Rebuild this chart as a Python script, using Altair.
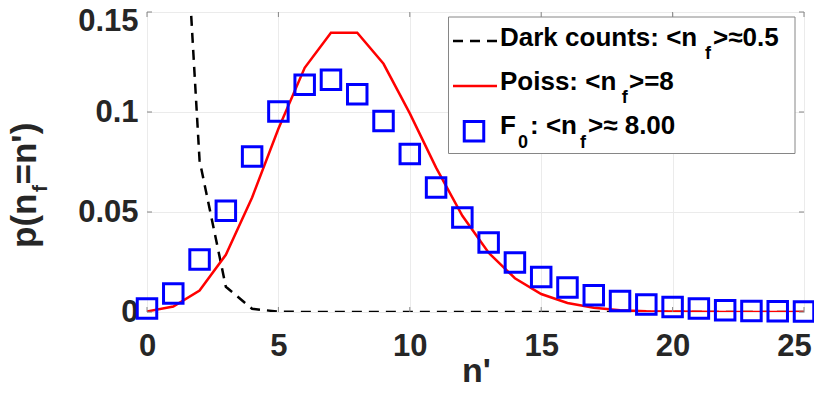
import altair as alt
import pandas as pd

# ---- data ----
n_vals = [0, 1, 2, 3, 4, 5, 6, 7, 8, 9, 10, 11, 12, 13, 14, 15, 16, 17, 18, 19, 20, 21, 22, 23, 24, 25]
dark_counts = [0.6065, 0.3033, 0.0758, 0.0126, 0.0016, 0.0002, 0.0, 0.0, 0.0, 0.0, 0.0, 0.0, 0.0,
               0.0, 0.0, 0.0, 0.0, 0.0, 0.0, 0.0, 0.0, 0.0, 0.0, 0.0, 0.0, 0.0]
poisson = [0.0003, 0.0027, 0.0107, 0.0286, 0.0573, 0.0916, 0.1221, 0.1396, 0.1396, 0.1241, 0.0993,
           0.0722, 0.0481, 0.0296, 0.0169, 0.0090, 0.0045, 0.0021, 0.0009, 0.0004, 0.0002, 0.0001,
           0.0, 0.0, 0.0, 0.0]
f0 = [0.0017, 0.0092, 0.0262, 0.0506, 0.0777, 0.1002, 0.1136, 0.1161, 0.1089, 0.0955, 0.0790,
      0.0623, 0.0473, 0.0348, 0.0247, 0.0175, 0.0122, 0.0084, 0.0055, 0.0037, 0.0025, 0.0017,
      0.0009, 0.0005, 0.0004, 0.0002]
x_ticks = [0, 5, 10, 15, 20, 25]
y_ticks = [0, 0.05, 0.1, 0.15]

W, H = 657, 300
FONT = "Liberation Sans"
BOX = "#868686"
GRID = "#ebebeb"
TXT = "#262626"

df = pd.DataFrame({"n": n_vals, "dark": dark_counts, "poiss": poisson, "f0": f0})
xt = pd.DataFrame({"t": x_ticks})
yt = pd.DataFrame({"t": y_ticks})
one = pd.DataFrame({"k": [0]})

xs = alt.Scale(domain=[0, 25], nice=False, zero=False)
ys = alt.Scale(domain=[0, 0.15], nice=False)

xaxis = alt.Axis(values=x_ticks, title="n'", grid=True, gridColor=GRID, domain=False,
                 ticks=False, tickSize=0, labelPadding=19, labelFont=FONT, labelFontSize=31,
                 labelFontWeight="bold", labelColor=TXT, labelFlush=False, labelOverlap=False,
                 labelOffset={"condition": {"test": "datum.value > 24", "value": -10}, "value": 0},
                 titleFont=FONT, titleFontSize=34, titleFontWeight="bold", titleColor=TXT,
                 titleX=329, titleY=69, titleBaseline="alphabetic")
yaxis = alt.Axis(values=y_ticks, labelExpr="format(datum.value, '.2~f')", title=None,
                 grid=True, gridColor=GRID, domain=False, ticks=False, tickSize=0,
                 labelPadding=9, labelFont=FONT, labelFontSize=31, labelFontWeight="bold",
                 labelColor=TXT, labelFlush=False, labelOverlap=False,
                 labelOffset={"condition": {"test": "datum.value > 0.14", "value": 9}, "value": 0})

X = alt.X("n:Q", scale=xs, axis=xaxis)

dark = alt.Chart(df).mark_line(color="black", strokeWidth=2.5, strokeDash=[10, 7], clip=True).encode(
    x=X, y=alt.Y("dark:Q", scale=ys, axis=yaxis))
poiss = alt.Chart(df).mark_line(color="#ff0000", strokeWidth=2.5, clip=True).encode(
    x=X, y=alt.Y("poiss:Q", scale=ys, axis=yaxis))
squares = alt.Chart(df).mark_point(shape="square", filled=False, size=380, strokeWidth=3,
                                   color="#0000ff", opacity=1).encode(
    x=X, y=alt.Y("f0:Q", scale=ys, axis=yaxis))

# inward ticks
tick_b = alt.Chart(xt).mark_rule(color=BOX, strokeWidth=1).encode(
    x=alt.X("t:Q", scale=xs, axis=xaxis), y=alt.value(H), y2=alt.value(H - 5))
tick_t = alt.Chart(xt).mark_rule(color=BOX, strokeWidth=1).encode(
    x=alt.X("t:Q", scale=xs, axis=xaxis), y=alt.value(0), y2=alt.value(5))
tick_l = alt.Chart(yt).mark_rule(color=BOX, strokeWidth=1).encode(
    y=alt.Y("t:Q", scale=ys, axis=yaxis), x=alt.value(0), x2=alt.value(5))
tick_r = alt.Chart(yt).mark_rule(color=BOX, strokeWidth=1).encode(
    y=alt.Y("t:Q", scale=ys, axis=yaxis), x=alt.value(W - 5), x2=alt.value(W))

# legend
box = alt.Chart(one).mark_rect(fill="white", stroke=BOX, strokeWidth=1).encode(
    x=alt.value(301.5), x2=alt.value(648), y=alt.value(5), y2=alt.value(141.5))
leg_dark = alt.Chart(one).mark_rule(color="black", strokeWidth=2.5, strokeDash=[10, 7]).encode(
    x=alt.value(306), x2=alt.value(350), y=alt.value(29))
leg_poiss = alt.Chart(one).mark_rule(color="#ff0000", strokeWidth=2.5).encode(
    x=alt.value(306), x2=alt.value(350), y=alt.value(74))
leg_sq = alt.Chart(one).mark_point(shape="square", filled=False, size=380, strokeWidth=3,
                                   color="#0000ff", opacity=1).encode(
    x=alt.value(327), y=alt.value(119.3))


def txt(s, x, y, size, color="black", align="left", angle=None):
    kw = dict(text=s, align=align, baseline="alphabetic", font=FONT, fontSize=size,
              fontWeight="bold", color=color)
    if angle is not None:
        kw["angle"] = angle
    return alt.Chart(one).mark_text(**kw).encode(x=alt.value(x), y=alt.value(y))


texts = [
    txt("Dark counts: <n", 353, 33.5, 26), txt("f", 558, 46.5, 18), txt(">≈0.5", 566, 33.5, 26),
    txt("Poiss: <n", 353, 78, 26), txt("f", 474.7, 90.5, 18), txt(">=8", 482, 78, 26),
    txt("F", 353, 121.5, 26), txt("0", 371, 135.5, 18), txt(": <n", 383, 121.5, 26),
    txt("f", 433, 135.5, 18), txt(">≈ 8.00", 441, 121.5, 26),
    # y-axis title p(n_f=n')
    txt("p(n", -111, 236, 35, color=TXT, angle=270),
    txt("f", -100, 180, 21, color=TXT, angle=270),
    txt("=n')", -111, 172.5, 35, color=TXT, angle=270),
]

chart = alt.layer(
    dark, poiss, squares, tick_b, tick_t, tick_l, tick_r,
    box, leg_dark, leg_poiss, leg_sq, *texts
).properties(
    width=W, height=H,
    autosize=alt.AutoSizeParams(type="none"),
    padding={"left": 139, "top": 4, "right": 10, "bottom": 71},
).configure_view(stroke=BOX, strokeWidth=1)

chart.save("out.html", embed_options={"renderer": "svg", "actions": False})
